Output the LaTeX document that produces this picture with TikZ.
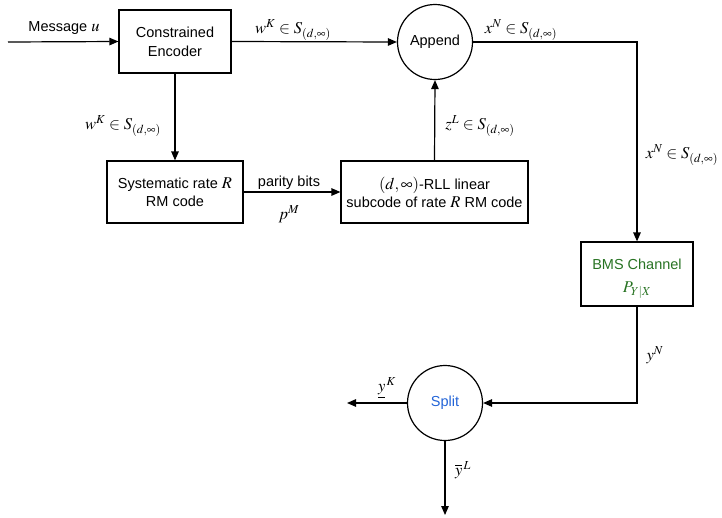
\documentclass[tikz,border=0pt]{standalone}
\usepackage{mathptmx}
\usepackage{fontspec}
\setmainfont{Liberation Sans}
\usetikzlibrary{arrows.meta}
\definecolor{chgreen}{RGB}{40,115,35}
\definecolor{splitblue}{RGB}{35,100,215}
% math set a little larger than the sans text around it
\newcommand{\mth}[1]{{\fontsize{16.5}{17}\selectfont$#1$}}
\begin{document}
\begin{tikzpicture}[x=1pt,y=-1pt,
  every node/.style={font=\fontsize{14.5}{17}\selectfont},
  blk/.style={draw,line width=1.2pt,rectangle,align=center,inner sep=2pt},
  rnd/.style={draw,line width=1.2pt,circle,align=center,inner sep=0pt,minimum size=75pt},
  wire/.style={line width=1.2pt},
  arr/.style={wire,-{Triangle[length=9pt,width=7.5pt]}},
  lbl/.style={inner sep=1pt}]
\useasboundingbox (0,0) rectangle (722,517);

% blocks
\node[blk,minimum width=112pt,minimum height=63pt] (enc) at (175,41.5) {Constrained\\[2pt]Encoder};
\node[blk,minimum width=136pt,minimum height=62pt] (sys) at (175,192) {Systematic rate \mth{R}\\[1pt]RM code};
\node[blk,minimum width=187pt,minimum height=62pt] (rll) at (434.5,192) {\mth{(d,\infty)}-RLL linear\\[1pt]subcode of rate \mth{R} RM code};
\node[rnd] (app) at (435,42) {Append};
\node[blk,minimum width=112pt,minimum height=64pt] (bms) at (637,274) {};
\node[lbl,text=chgreen] (bmsname) at (637,264) {BMS Channel};
\node[lbl,text=chgreen] (bmsprob) at (637,290) {\mth{P_{Y|X}}};
\node[rnd,text=splitblue] (split) at (445,403) {Split};

% free ends and corners
\coordinate (msg) at (8,42);
\coordinate (c1) at (637,42);
\coordinate (c2) at (637,403);
\coordinate (outK) at (347,403);
\coordinate (outL) at (445,515);

% connectors
\draw[arr] (msg) -- (enc.west);
\draw[arr] (enc.east) -- (app.west);
\draw[arr] (enc.south) -- (sys.north);
\draw[arr] (sys.east) -- (rll.west);
\draw[arr] (rll.north) -- (app.south);
\draw[arr] (app.east) -- (c1) -- (bms.north);
\draw[arr] (bms.south) -- (c2) -- (split.east);
\draw[arr] (split.west) -- (outK);
\draw[arr] (split.south) -- (outL);

% labels
\node[lbl] (lmsg) at (64,28) {Message \mth{u}};
\node[lbl] (lw1) at (293,30) {\mth{w^K \in S_{(d,\infty)}}};
\node[lbl] (lw2) at (123,126) {\mth{w^K \in S_{(d,\infty)}}};
\node[lbl] (lpar) at (289,183) {parity bits};
\node[lbl] (lpm) at (289,214) {\mth{p^M}};
\node[lbl] (lz) at (480,126) {\mth{z^L \in S_{(d,\infty)}}};
\node[lbl] (lx1) at (521,30) {\mth{x^N \in S_{(d,\infty)}}};
\node[lbl] (lx2) at (682,155) {\mth{x^N \in S_{(d,\infty)}}};
\node[lbl] (ly) at (655,355) {\mth{y^N}};
\node[lbl] (lyk) at (387,388) {\mth{\underline{y}^{\,K}}};
\node[lbl] (lyl) at (463,470) {\mth{\overline{y}^{\,L}}};
\end{tikzpicture}
\end{document}
